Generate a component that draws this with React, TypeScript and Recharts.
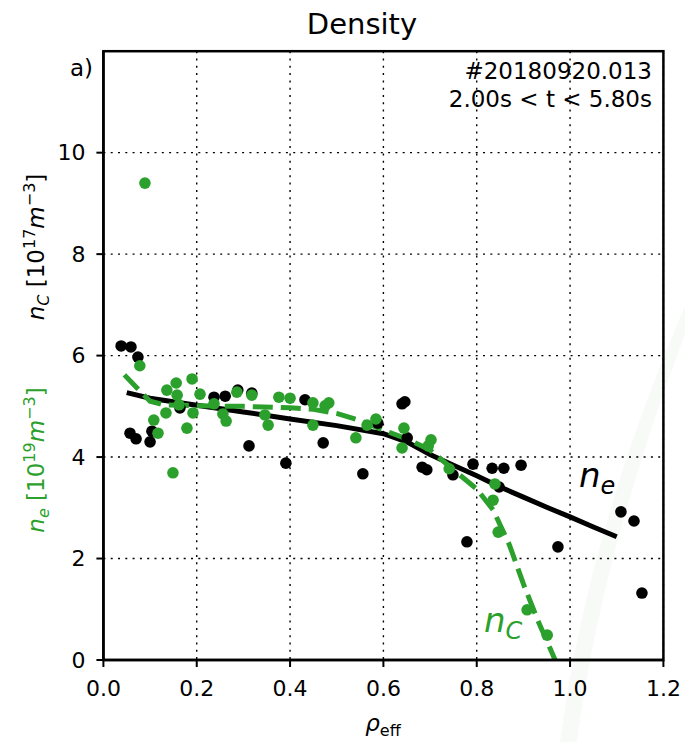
import React from 'react';
import { ComposedChart, Scatter, Line, XAxis, YAxis, CartesianGrid } from 'recharts';

// measured electron density (black dots)
const neRho = [0.038, 0.059, 0.074, 0.057, 0.07, 0.1, 0.104, 0.237, 0.261, 0.288, 0.318, 0.164, 0.312, 0.391, 0.432, 0.471, 0.64, 0.646, 0.588, 0.556, 0.651, 0.683, 0.693, 0.749, 0.792, 0.833, 0.858, 0.895, 0.848, 0.779, 0.974, 1.109, 1.137, 1.154];
const neVal = [6.19, 6.17, 5.97, 4.47, 4.36, 4.3, 4.51, 5.18, 5.2, 5.32, 5.26, 4.97, 4.22, 3.88, 5.13, 4.28, 5.05, 5.09, 4.67, 3.67, 4.38, 3.8, 3.75, 3.65, 3.86, 3.78, 3.78, 3.84, 3.41, 2.33, 2.23, 2.92, 2.74, 1.32];

// measured carbon density (green dots)
const ncRho = [0.089, 0.078, 0.136, 0.156, 0.19, 0.158, 0.207, 0.134, 0.162, 0.192, 0.108, 0.117, 0.179, 0.149, 0.237, 0.256, 0.263, 0.286, 0.318, 0.346, 0.353, 0.376, 0.4, 0.449, 0.475, 0.483, 0.449, 0.541, 0.565, 0.584, 0.644, 0.64, 0.702, 0.696, 0.741, 0.839, 0.835, 0.846, 0.908, 0.951];
const ncVal = [9.4, 5.8, 5.32, 5.46, 5.54, 5.22, 5.24, 4.87, 5.03, 4.87, 4.73, 4.47, 4.57, 3.69, 5.05, 4.85, 4.71, 5.28, 5.22, 4.83, 4.63, 5.18, 5.16, 5.07, 5.01, 5.07, 4.63, 4.38, 4.63, 4.75, 4.57, 4.18, 4.34, 4.22, 3.77, 3.47, 3.15, 2.52, 0.99, 0.49];

// fits
const neFitRho = [0.05, 0.1, 0.2, 0.3, 0.4, 0.5, 0.6, 0.65, 0.7, 0.75, 0.8, 0.85, 0.9, 0.95, 1.0, 1.05, 1.1];
const neFitVal = [5.27, 5.16, 5.02, 4.89, 4.75, 4.62, 4.46, 4.3, 4.05, 3.84, 3.63, 3.41, 3.21, 3.01, 2.82, 2.62, 2.43];
const ncFitRho = [0.045, 0.07, 0.1, 0.13, 0.2, 0.3, 0.4, 0.45, 0.5, 0.55, 0.6, 0.65, 0.7, 0.75, 0.8, 0.835, 0.87, 0.9, 0.93, 0.968];
const ncFitVal = [5.62, 5.38, 5.1, 5.03, 5.01, 5.0, 4.97, 4.94, 4.86, 4.72, 4.53, 4.36, 4.14, 3.75, 3.37, 2.96, 2.27, 1.5, 0.8, 0];

const xTicks = [0, 0.2, 0.4, 0.6, 0.8, 1.0, 1.2];
const yTicks = [0, 2, 4, 6, 8, 10];

const GREEN = '#2ca02c';
const FONT = 'DejaVu Sans, sans-serif';
const W = 685;
const H = 742;
// plot box
const PL = 103.4;
const PR = 663.4;
const PT = 51.2;
const PB = 660;

const toPoints = (xs: number[], ys: number[]) => xs.map((x, i) => ({ x, y: ys[i] }));

const neData = toPoints(neRho, neVal);
const ncData = toPoints(ncRho, ncVal);
const neFit = toPoints(neFitRho, neFitVal);
const ncFit = toPoints(ncFitRho, ncFitVal);

const dot = (color: string) => (p: any) => <circle cx={p.cx} cy={p.cy} r={5.8} fill={color} />;

const tickStyle = { fill: '#000', fontSize: 22, fontFamily: FONT };

const App: React.FC = () => {
  return (
    <div style={{ position: 'absolute', left: 0, top: 0, width: W, height: H, background: '#fff' }}>
      {/* faint watermark band */}
      <svg width={W} height={H} style={{ position: 'absolute', left: 0, top: 0 }}>
        <path d="M560,742 L577,742 Q600,560 685,334 L685,306 Q588,530 560,742 Z" fill="#f8faf8" />
      </svg>
      <div style={{ position: 'absolute', left: 0, top: 0 }}>
        <ComposedChart
          width={W}
          height={H}
          margin={{ top: PT, right: W - PR, left: PL - 70, bottom: H - PB - 40 }}
        >
          <CartesianGrid stroke="#000" strokeDasharray="2 5.3" strokeWidth={1.4} />
          <XAxis
            type="number"
            dataKey="x"
            domain={[0, 1.2]}
            ticks={xTicks}
            allowDataOverflow
            height={40}
            tickSize={7}
            tickMargin={13}
            tick={tickStyle}
            tickFormatter={(v: number) => v.toFixed(1)}
            axisLine={{ stroke: '#000', strokeWidth: 2.5 }}
            tickLine={{ stroke: '#000', strokeWidth: 2 }}
          />
          <YAxis
            type="number"
            dataKey="y"
            domain={[0, 12]}
            ticks={yTicks}
            allowDataOverflow
            width={70}
            tickSize={7}
            tickMargin={11}
            tick={tickStyle}
            axisLine={{ stroke: '#000', strokeWidth: 2.5 }}
            tickLine={{ stroke: '#000', strokeWidth: 2 }}
          />
          <Scatter data={neData} fill="#000" shape={dot('#000')} isAnimationActive={false} />
          <Line data={neFit} dataKey="y" type="linear" stroke="#000" strokeWidth={5} dot={false} activeDot={false} isAnimationActive={false} />
          <Line data={ncFit} dataKey="y" type="linear" stroke={GREEN} strokeWidth={5} strokeDasharray="20 8" dot={false} activeDot={false} isAnimationActive={false} />
          <Scatter data={ncData} fill={GREEN} shape={dot(GREEN)} isAnimationActive={false} />
        </ComposedChart>
      </div>
      {/* frame and annotations */}
      <svg width={W} height={H} style={{ position: 'absolute', left: 0, top: 0, pointerEvents: 'none' }} fontFamily={FONT}>
        <rect x={PL} y={PT} width={PR - PL} height={PB - PT} fill="none" stroke="#000" strokeWidth={2.5} />
        <text x={362} y={34} fontSize={29} textAnchor="middle" fill="#000">Density</text>
        <text x={93} y={76} fontSize={23} textAnchor="end" fill="#000">a)</text>
        <text x={652} y={79} fontSize={23} textAnchor="end" fill="#000">#20180920.013</text>
        <text x={652} y={107} fontSize={23} textAnchor="end" fill="#000">2.00s &lt; t &lt; 5.80s</text>
        <text x={579} y={487} fontSize={34} fill="#000">
          <tspan fontStyle="italic">n</tspan>
          <tspan fontStyle="italic" fontSize={24} dy={7}>e</tspan>
        </text>
        <text x={484} y={632} fontSize={34} fill={GREEN}>
          <tspan fontStyle="italic">n</tspan>
          <tspan fontStyle="italic" fontSize={24} dy={7}>C</tspan>
        </text>
        <text transform="translate(44,247) rotate(-90)" fontSize={23} textAnchor="middle" fill="#000">
          <tspan fontStyle="italic">n</tspan>
          <tspan fontStyle="italic" fontSize={16} dy={5}>C</tspan>
          <tspan dy={-5}> [10</tspan>
          <tspan fontSize={16} dy={-9}>17</tspan>
          <tspan fontStyle="italic" dy={9}>m</tspan>
          <tspan fontSize={16} dy={-9}>−3</tspan>
          <tspan dy={9}>]</tspan>
        </text>
        <text transform="translate(44,460) rotate(-90)" fontSize={23} textAnchor="middle" fill={GREEN}>
          <tspan fontStyle="italic">n</tspan>
          <tspan fontStyle="italic" fontSize={16} dy={5}>e</tspan>
          <tspan dy={-5}> [10</tspan>
          <tspan fontSize={16} dy={-9}>19</tspan>
          <tspan fontStyle="italic" dy={9}>m</tspan>
          <tspan fontSize={16} dy={-9}>−3</tspan>
          <tspan dy={9}>]</tspan>
        </text>
        <text x={383} y={731} fontSize={23} textAnchor="middle" fill="#000">
          <tspan fontStyle="italic">ρ</tspan>
          <tspan fontSize={16} dy={5}>eff</tspan>
        </text>
      </svg>
    </div>
  );
};

export default App;
